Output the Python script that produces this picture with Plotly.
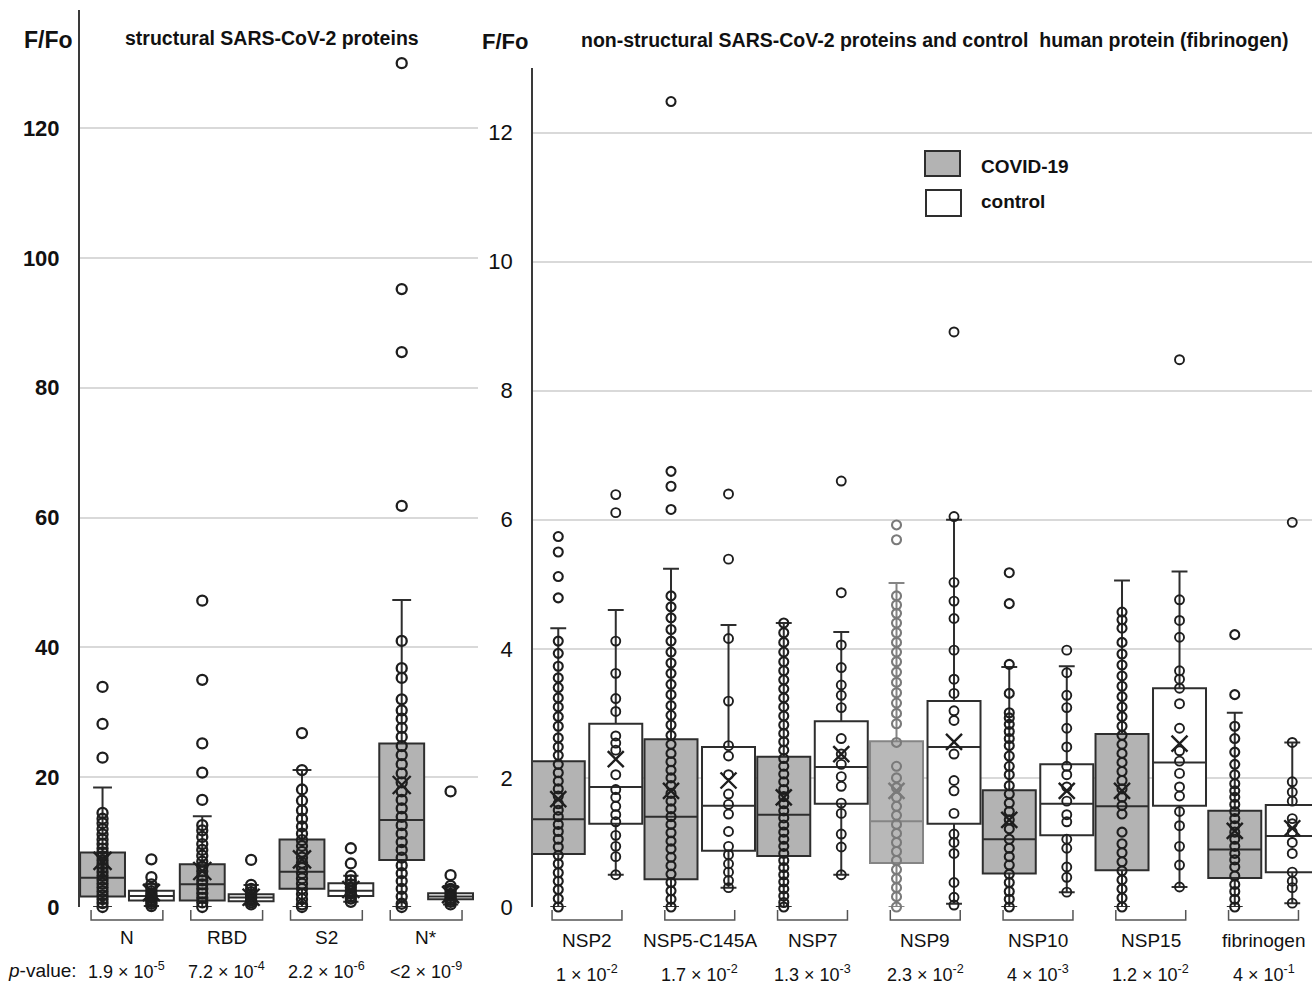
import plotly.graph_objects as go

# ---------------- data: structural proteins (left panel) ----------------
s_groups = ["N", "RBD", "S2", "N*"]
s_pvals = ["1.9 × 10<sup>-5</sup>", "7.2 × 10<sup>-4</sup>", "2.2 × 10<sup>-6</sup>", "<2 × 10<sup>-9</sup>"]
s_cov_lo = [0.0, 0.0, 0.0, 0.0]
s_cov_q1 = [1.6, 1.0, 2.8, 7.25]
s_cov_med = [4.5, 3.5, 5.45, 13.4]
s_cov_q3 = [8.4, 6.6, 10.4, 25.2]
s_cov_hi = [18.4, 14.0, 21.1, 47.3]
s_cov_mean = [7.1, 5.55, 7.35, 18.8]
s_ctl_lo = [0.15, 0.4, 0.8, 0.4]
s_ctl_q1 = [1.0, 0.9, 1.7, 1.2]
s_ctl_med = [1.7, 1.45, 2.5, 1.6]
s_ctl_q3 = [2.5, 1.95, 3.65, 2.1]
s_ctl_hi = [3.5, 3.4, 4.8, 3.25]
s_ctl_mean = [2.2, 1.5, 2.7, 1.9]
s_cov_pts = [
    [33.9, 28.2, 23.0, 14.5, 13.6, 12.9, 12.0, 11.2, 10.4, 9.7, 9.0, 8.4, 7.8, 7.2, 6.6, 6.0,
     5.4, 4.8, 4.2, 3.6, 3.0, 2.4, 1.8, 1.2, 0.6, 0.0],
    [47.2, 35.0, 25.2, 20.7, 16.5, 12.6, 11.8, 10.8, 9.7, 8.8, 7.9, 7.0, 6.2, 5.5, 4.8, 4.1,
     3.5, 2.8, 2.1, 1.4, 0.7, 0.0],
    [26.8, 21.1, 18.1, 16.4, 14.9, 13.6, 12.4, 11.3, 10.3, 9.4, 8.5, 7.6, 6.8, 6.0, 5.2, 4.4,
     3.6, 2.8, 2.0, 1.2, 0.4, 0.0],
    [130.0, 95.2, 85.5, 61.8, 41.0, 36.8, 35.3, 32.0, 30.3, 29.0, 27.6, 26.2, 24.8, 23.4, 22.0,
     20.6, 19.2, 17.8, 16.5, 15.2, 13.9, 12.6, 11.3, 10.0, 8.8, 7.6, 6.4, 5.2, 4.0, 2.8, 1.6,
     0.5, 0.0],
]
s_ctl_pts = [
    [7.35, 4.6, 3.5, 2.9, 2.4, 2.0, 1.7, 1.4, 1.1, 0.8, 0.5, 0.15],
    [7.25, 3.4, 2.8, 2.3, 1.9, 1.6, 1.3, 1.0, 0.7, 0.4],
    [9.05, 6.7, 4.8, 4.1, 3.5, 3.0, 2.5, 2.1, 1.7, 1.3, 0.8],
    [17.8, 4.9, 3.25, 2.8, 2.4, 2.0, 1.7, 1.4, 1.1, 0.8, 0.4],
]
s_ticks = [0, 20, 40, 60, 80, 100, 120]

# ---------------- data: non-structural proteins (right panel) ----------------
n_groups = ["NSP2", "NSP5-C145A", "NSP7", "NSP9", "NSP10", "NSP15", "fibrinogen"]
n_pvals = ["1 × 10<sup>-2</sup>", "1.7 × 10<sup>-2</sup>", "1.3 × 10<sup>-3</sup>",
           "2.3 × 10<sup>-2</sup>", "4 × 10<sup>-3</sup>", "1.2 × 10<sup>-2</sup>",
           "4 × 10<sup>-1</sup>"]
n_cov_lo = [0, 0, 0, 0, 0, 0, 0]
n_cov_q1 = [0.82, 0.43, 0.79, 0.68, 0.52, 0.57, 0.45]
n_cov_med = [1.36, 1.40, 1.43, 1.33, 1.05, 1.56, 0.89]
n_cov_q3 = [2.26, 2.60, 2.33, 2.57, 1.81, 2.68, 1.49]
n_cov_hi = [4.32, 5.24, 4.40, 5.02, 3.72, 5.06, 3.01]
n_cov_mean = [1.67, 1.80, 1.70, 1.80, 1.35, 1.80, 1.18]
n_ctl_lo = [0.50, 0.30, 0.50, 0.05, 0.23, 0.31, 0.06]
n_ctl_q1 = [1.29, 0.87, 1.60, 1.29, 1.11, 1.57, 0.54]
n_ctl_med = [1.86, 1.57, 2.17, 2.48, 1.60, 2.24, 1.10]
n_ctl_q3 = [2.84, 2.48, 2.88, 3.19, 2.21, 3.39, 1.58]
n_ctl_hi = [4.60, 4.37, 4.26, 6.00, 3.73, 5.20, 2.55]
n_ctl_mean = [2.29, 1.96, 2.37, 2.56, 1.80, 2.53, 1.22]
n_cov_pts = [
    [5.74, 5.50, 5.12, 4.79, 4.12, 3.93, 3.73, 3.55, 3.40, 3.24, 3.10, 2.95, 2.80, 2.62, 2.48,
     2.35, 2.21, 2.08, 1.95, 1.83, 1.72, 1.60, 1.50, 1.40, 1.28, 1.17, 1.05, 0.93, 0.80, 0.67,
     0.53, 0.40, 0.27, 0.13, 0.0],
    [12.48, 6.75, 6.52, 6.16, 4.82, 4.65, 4.48, 4.30, 4.12, 3.95, 3.78, 3.62, 3.45, 3.29, 3.12,
     2.97, 2.82, 2.66, 2.52, 2.38, 2.25, 2.12, 2.00, 1.88, 1.76, 1.64, 1.52, 1.40, 1.28, 1.15,
     1.02, 0.90, 0.77, 0.64, 0.51, 0.38, 0.25, 0.12, 0.0],
    [4.40, 4.25, 4.10, 3.95, 3.80, 3.66, 3.52, 3.38, 3.24, 3.10, 2.96, 2.82, 2.69, 2.56, 2.43,
     2.30, 2.18, 2.06, 1.94, 1.82, 1.71, 1.60, 1.49, 1.38, 1.27, 1.16, 1.05, 0.94, 0.83, 0.72,
     0.61, 0.50, 0.39, 0.28, 0.17, 0.07, 0.0],
    [5.92, 5.69, 4.82, 4.68, 4.55, 4.40, 4.25, 4.10, 3.95, 3.80, 3.64, 3.48, 3.32, 3.16, 3.00,
     2.84, 2.55, 2.18, 2.00, 1.85, 1.70, 1.56, 1.42, 1.28, 1.14, 1.00, 0.86, 0.72, 0.58, 0.44,
     0.30, 0.16, 0.0],
    [5.18, 4.70, 3.76, 3.31, 3.01, 2.93, 2.83, 2.72, 2.61, 2.50, 2.34, 2.18, 2.05, 1.88, 1.75,
     1.61, 1.48, 1.35, 1.21, 1.05, 0.91, 0.78, 0.65, 0.51, 0.38, 0.24, 0.12, 0.0],
    [4.57, 4.45, 4.32, 4.10, 3.92, 3.75, 3.58, 3.42, 3.26, 3.10, 2.95, 2.80, 2.66, 2.52, 2.38,
     2.24, 2.10, 1.96, 1.83, 1.70, 1.57, 1.44, 1.16, 0.98, 0.84, 0.70, 0.56, 0.42, 0.28, 0.14,
     0.0],
    [4.22, 3.29, 2.80, 2.61, 2.40, 2.21, 2.05, 1.91, 1.80, 1.70, 1.59, 1.48, 1.37, 1.26, 1.16,
     1.05, 0.94, 0.83, 0.73, 0.62, 0.48, 0.35, 0.24, 0.12, 0.0],
]
n_ctl_pts = [
    [6.39, 6.11, 4.12, 3.62, 3.23, 3.03, 2.65, 2.54, 2.43, 2.05, 1.82, 1.70, 1.56, 1.43, 1.32,
     1.11, 0.94, 0.78, 0.50],
    [6.40, 5.39, 4.16, 3.19, 2.50, 2.34, 2.05, 1.75, 1.59, 1.44, 1.17, 0.94, 0.81, 0.67, 0.54,
     0.41, 0.30],
    [6.60, 4.87, 4.06, 3.71, 3.44, 3.28, 3.09, 2.61, 2.37, 2.21, 2.02, 1.87, 1.61, 1.45, 1.13,
     0.93, 0.50],
    [8.91, 6.05, 5.03, 4.74, 4.47, 3.98, 3.53, 3.31, 3.04, 2.89, 2.37, 1.96, 1.80, 1.45, 1.13,
     1.00, 0.83, 0.38, 0.15, 0.03],
    [3.98, 3.63, 3.28, 3.09, 2.77, 2.48, 2.18, 2.05, 1.86, 1.64, 1.43, 1.32, 1.05, 0.91, 0.62,
     0.46, 0.23],
    [8.48, 4.76, 4.44, 4.18, 3.66, 3.53, 3.39, 3.15, 2.77, 2.42, 2.26, 2.07, 1.86, 1.72, 1.48,
     1.26, 0.94, 0.65, 0.31],
    [5.96, 2.55, 1.94, 1.78, 1.64, 1.37, 1.29, 1.16, 1.00, 0.83, 0.54, 0.40, 0.30, 0.06],
]
n_ticks = [0, 2, 4, 6, 8, 10, 12]

# ---------------- styling / layout constants ----------------
W, H = 1312, 984
ML, MR, MT, MB = 80, 0, 10, 77
PW, PH = W - ML - MR, H - MT - MB
FONT = "Liberation Sans, Arial, sans-serif"
COV_FILL, CTL_FILL = "#b3b3b3", "#ffffff"
EDGE = "#2e2e2e"
FADED_GROUP = "NSP9"
GRID = "#d9d9d9"


def xp(px):
    return (px - ML) / PW


def yp(py):
    return (H - MB - py) / PH


X1_DOM, X1_RNG = [0, xp(478)], [-0.471, 3.52]
X2_DOM, X2_RNG = [xp(533), 1], [-0.479, 6.43]


def cat_to_paper(v, dom, rng):
    # position of a category value along its x-axis, expressed in paper units
    return dom[0] + (v - rng[0]) / (rng[1] - rng[0]) * (dom[1] - dom[0])


fig = go.Figure()


def add_series(xa, ya, pos, q1, med, q3, lo, hi, mean, pts, fill, edge, pcol,
               bw, ww, lw, msize, mlw, xsize):
    fig.add_trace(go.Box(
        x=[pos], q1=[q1], median=[med], q3=[q3], lowerfence=[lo], upperfence=[hi],
        orientation="v", width=bw, whiskerwidth=ww, fillcolor=fill,
        line=dict(color=edge, width=lw), boxpoints=False, showlegend=False,
        hoverinfo="skip", xaxis=xa, yaxis=ya))
    fig.add_trace(go.Scatter(
        x=[pos] * len(pts), y=pts, mode="markers", xaxis=xa, yaxis=ya,
        marker=dict(symbol="circle-open", size=msize, color=pcol, line=dict(width=mlw)),
        cliponaxis=False, showlegend=False, hoverinfo="y"))
    fig.add_trace(go.Scatter(
        x=[pos], y=[mean], mode="markers", xaxis=xa, yaxis=ya,
        marker=dict(symbol="x-thin-open", size=xsize, color=pcol, line=dict(width=2.4)),
        cliponaxis=False, showlegend=False, hoverinfo="y"))


OFF_L, OFF_R = 0.245, 0.255
for i, g in enumerate(s_groups):
    add_series("x", "y", i - OFF_L, s_cov_q1[i], s_cov_med[i], s_cov_q3[i], s_cov_lo[i],
               s_cov_hi[i], s_cov_mean[i], s_cov_pts[i], COV_FILL, EDGE, "#1e1e1e",
               0.45, 0.42, 2, 10, 2.3, 18)
    add_series("x", "y", i + OFF_L, s_ctl_q1[i], s_ctl_med[i], s_ctl_q3[i], s_ctl_lo[i],
               s_ctl_hi[i], s_ctl_mean[i], s_ctl_pts[i], CTL_FILL, EDGE, "#1e1e1e",
               0.45, 0.34, 2, 10, 2.3, 17)

for i, g in enumerate(n_groups):
    faded = g == FADED_GROUP
    add_series("x2", "y2", i - OFF_R, n_cov_q1[i], n_cov_med[i], n_cov_q3[i], n_cov_lo[i],
               n_cov_hi[i], n_cov_mean[i], n_cov_pts[i], "#b8b8b8" if faded else COV_FILL,
               "#858585" if faded else EDGE, "#7a7a7a" if faded else "#1e1e1e",
               0.47, 0.3, 2, 9, 2.1, 16)
    add_series("x2", "y2", i + OFF_R, n_ctl_q1[i], n_ctl_med[i], n_ctl_q3[i], n_ctl_lo[i],
               n_ctl_hi[i], n_ctl_mean[i], n_ctl_pts[i], CTL_FILL, EDGE, "#1e1e1e",
               0.47, 0.3, 2, 9, 1.9, 16)

shapes = []
annos = []
# brackets + labels
for i, g in enumerate(s_groups):
    shapes.append(dict(type="path", xref="x", yref="paper",
                       path=f"M {i-0.36},{yp(910)} L {i-0.36},{yp(920)} L {i+0.36},{yp(920)} L {i+0.36},{yp(910)}",
                       line=dict(color="#555555", width=1.5)))
    cx = cat_to_paper(i, X1_DOM, X1_RNG)
    annos.append(dict(x=cx, y=yp(937), xref="paper", yref="paper", text=g, showarrow=False,
                      font=dict(family=FONT, size=19, color="#111111"), xanchor="center", yanchor="middle"))
    annos.append(dict(x=cx, y=yp(970), xref="paper", yref="paper", text=s_pvals[i], showarrow=False,
                      font=dict(family=FONT, size=18, color="#111111"), xanchor="center", yanchor="middle"))
for i, g in enumerate(n_groups):
    shapes.append(dict(type="path", xref="x2", yref="paper",
                       path=f"M {i-0.31},{yp(910)} L {i-0.31},{yp(920)} L {i+0.31},{yp(920)} L {i+0.31},{yp(910)}",
                       line=dict(color="#555555", width=1.5)))
    cx = cat_to_paper(i, X2_DOM, X2_RNG)
    annos.append(dict(x=cx, y=yp(940), xref="paper", yref="paper", text=g, showarrow=False,
                      font=dict(family=FONT, size=19, color="#111111"), xanchor="center", yanchor="middle"))
    annos.append(dict(x=cx, y=yp(973), xref="paper", yref="paper", text=n_pvals[i], showarrow=False,
                      font=dict(family=FONT, size=18, color="#111111"), xanchor="center", yanchor="middle"))

annos.append(dict(x=xp(6), y=yp(970), xref="paper", yref="paper", text="<i>p</i>-value:",
                  showarrow=False, font=dict(family=FONT, size=19, color="#111111"),
                  xanchor="left", yanchor="middle"))
# titles
annos += [
    dict(x=xp(48), y=yp(40), xref="paper", yref="paper", text="<b>F/Fo</b>", showarrow=False,
         font=dict(family=FONT, size=23, color="#111111"), xanchor="center", yanchor="middle"),
    dict(x=xp(272), y=yp(38), xref="paper", yref="paper", text="<b>structural SARS-CoV-2 proteins</b>",
         showarrow=False, font=dict(family=FONT, size=19.5, color="#111111"), xanchor="center", yanchor="middle"),
    dict(x=xp(505), y=yp(41), xref="paper", yref="paper", text="<b>F/Fo</b>", showarrow=False,
         font=dict(family=FONT, size=22, color="#111111"), xanchor="center", yanchor="middle"),
    dict(x=xp(935), y=yp(40), xref="paper", yref="paper",
         text="<b>non-structural SARS-CoV-2 proteins and control  human protein (fibrinogen)</b>",
         showarrow=False, font=dict(family=FONT, size=19.5, color="#111111"), xanchor="center", yanchor="middle"),
]
# legend
shapes.append(dict(type="rect", xref="paper", yref="paper", x0=xp(925), x1=xp(960), y0=yp(176), y1=yp(151),
                   fillcolor=COV_FILL, line=dict(color=EDGE, width=2)))
shapes.append(dict(type="rect", xref="paper", yref="paper", x0=xp(926), x1=xp(961), y0=yp(216), y1=yp(190),
                   fillcolor=CTL_FILL, line=dict(color=EDGE, width=2)))
annos.append(dict(x=xp(979), y=yp(166), xref="paper", yref="paper", text="<b>COVID-19</b>", showarrow=False,
                  font=dict(family=FONT, size=19, color="#111111"), xanchor="left", yanchor="middle"))
annos.append(dict(x=xp(979), y=yp(202), xref="paper", yref="paper", text="<b>control</b>", showarrow=False,
                  font=dict(family=FONT, size=19, color="#111111"), xanchor="left", yanchor="middle"))

fig.update_layout(
    width=W, height=H, margin=dict(l=ML, r=MR, t=MT, b=MB),
    paper_bgcolor="white", plot_bgcolor="white", showlegend=False,
    shapes=shapes, annotations=annos,
    xaxis=dict(domain=X1_DOM, range=X1_RNG, showgrid=False, zeroline=False,
               showticklabels=False, showline=False, fixedrange=True),
    yaxis=dict(domain=[0, 1], range=[0, 138.2], tickvals=s_ticks, showgrid=True, gridcolor=GRID,
               gridwidth=1.5, zeroline=False, showline=True, linecolor="#3a3a3a", linewidth=2,
               ticks="", ticklabelstandoff=14,
               tickfont=dict(family=FONT, size=22, color="#111111", weight="bold")),
    xaxis2=dict(domain=X2_DOM, range=X2_RNG, showgrid=False, zeroline=False,
                showticklabels=False, showline=False, anchor="y2", fixedrange=True),
    yaxis2=dict(domain=[0, yp(68)], range=[0, 13.0], tickvals=n_ticks, showgrid=True, gridcolor=GRID,
                gridwidth=1.5, zeroline=False, showline=True, linecolor="#3a3a3a", linewidth=1.5,
                ticks="", ticklabelstandoff=14, anchor="x2",
                tickfont=dict(family=FONT, size=22, color="#111111")),
)

fig.write_html("out.html")
